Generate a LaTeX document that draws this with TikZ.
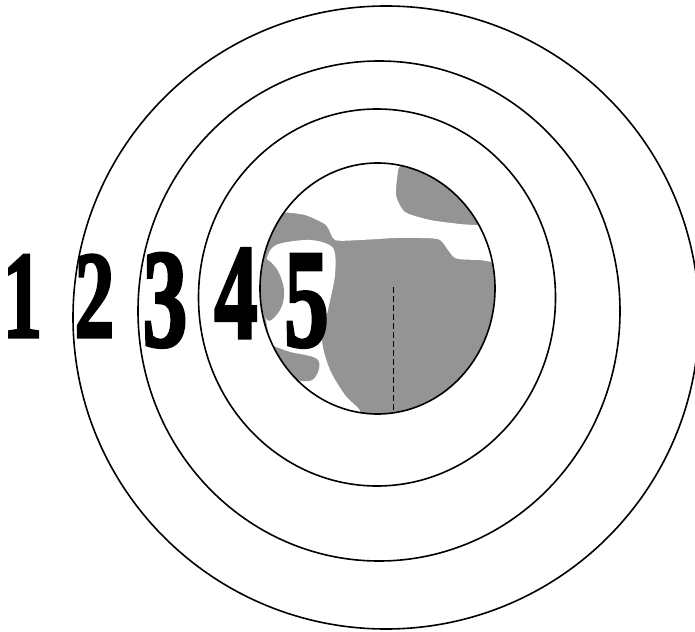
\documentclass[tikz,border=0pt]{standalone}
\usepackage{fontspec}
\setmainfont{Liberation Serif}
\newfontfamily\digitfont{Liberation Serif}[BoldFeatures={FakeBold=2.5}]
\begin{document}
\begin{tikzpicture}[x=1pt,y=-1pt,
  ring/.style={draw=black,line width=1.6pt},
  digit/.style={inner sep=0pt,anchor=base,font=\digitfont\bfseries,xscale=0.64}]
\useasboundingbox (0,0) rectangle (695,631);
\fill[white] (0,0) rectangle (695,631);
% rings
\draw[ring] (386,317.5) ellipse [x radius=313, y radius=311.5];
\draw[ring] (379,311) ellipse [x radius=241, y radius=250];
\draw[ring] (377,297.5) ellipse [x radius=178.5, y radius=188.5];
% inner shaded disc
\begin{scope}
  \clip (377.5,288.5) ellipse [x radius=117.5, y radius=125.5];
  \fill[black!42] (250,150) rectangle (510,420);
  \fill[white] plot[smooth cycle,tension=0.4] coordinates {
    (255,150) (400,150) (398,170) (396,195) (405,212) (430,220) (460,224)
    (485,226) (505,232) (505,262) (480,260) (455,258) (440,240) (420,238)
    (395,238) (360,240) (335,240) (326,225) (305,215) (280,212) (255,212)};
  \fill[white] plot[smooth cycle,tension=0.5] coordinates {
    (276,245) (310,240) (333,248) (335,275) (328,310) (322,340) (330,370)
    (345,395) (360,412) (335,416) (305,400) (285,372) (270,340) (264,300) (266,262)};
  \fill[black!42] plot[smooth cycle,tension=0.6] coordinates {
    (262,262) (276,268) (284,290) (280,310) (266,318)};
  \fill[black!42] plot[smooth cycle,tension=0.6] coordinates {
    (262,345) (290,352) (318,360) (312,380) (285,378) (262,370)};
  \draw[black,line width=0.9pt,dash pattern=on 6pt off 3pt] (393,287) -- (393,414);
\end{scope}
\draw[ring] (377.5,288.5) ellipse [x radius=117.5, y radius=125.5];
% digits
\node[digit] (d1) at (22.5,337) {\fontsize{124}{124}\selectfont 1};
\node[digit] (d2) at (94.5,337) {\fontsize{124}{124}\selectfont 2};
\node[digit] (d3) at (165,346) {\fontsize{140}{140}\selectfont 3};
\node[digit] (d4) at (236,338) {\fontsize{136}{136}\selectfont 4};
\node[digit] (d5) at (306.5,346) {\fontsize{140}{140}\selectfont 5};
\end{tikzpicture}
\end{document}
